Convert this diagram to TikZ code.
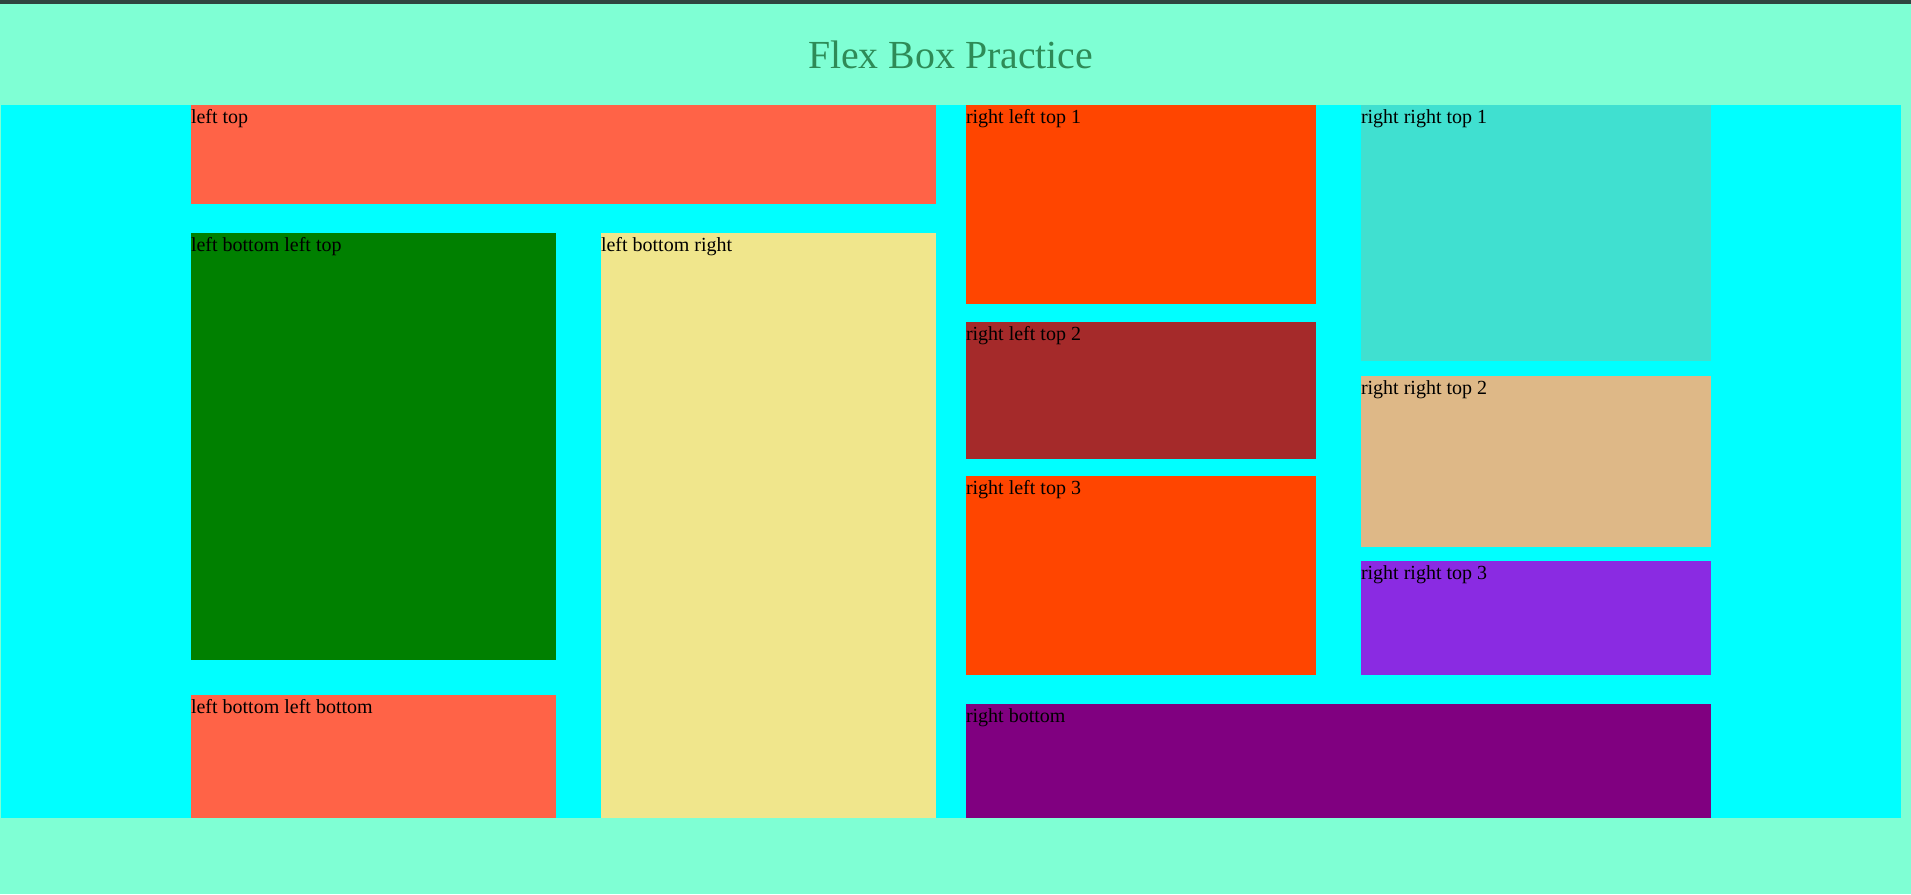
\documentclass[tikz,border=0pt]{standalone}
\usepackage{fontspec}
\setmainfont{Liberation Serif}
\definecolor{aqua}{HTML}{7FFFD4}
\definecolor{cyanbg}{HTML}{00FFFF}
\definecolor{barcol}{HTML}{2F4540}
\definecolor{tomato}{HTML}{FF6347}
\definecolor{orangered}{HTML}{FF4500}
\definecolor{brownc}{HTML}{A52A2A}
\definecolor{turq}{HTML}{40E0D0}
\definecolor{burly}{HTML}{DEB887}
\definecolor{bviolet}{HTML}{8A2BE2}
\definecolor{purplec}{HTML}{800080}
\definecolor{greenc}{HTML}{008000}
\definecolor{khaki}{HTML}{F0E68C}
\definecolor{seagreen}{HTML}{2E8B57}
\tikzset{
  lbl/.style={anchor=base west, inner sep=0pt, outer sep=0pt, text=black, font=\fontsize{20}{24}\selectfont},
  ttl/.style={anchor=base west, inner sep=0pt, outer sep=0pt, text=seagreen, font=\fontsize{39.8}{46}\selectfont}
}
\begin{document}
\begin{tikzpicture}[x=1pt,y=-1pt]
\useasboundingbox (0,0) rectangle (1911,894);
\fill[aqua] (0,0) rectangle (1911,894);
\fill[barcol] (0,0) rectangle (1911,4);
\node[ttl] (title) at (808,68.5) {Flex Box Practice};
\fill[cyanbg] (1.2,105) rectangle (1901,818);
% left column
\fill[tomato] (191,105) rectangle (936,204);
\node[lbl] (lt) at (191,123.5) {left top};
\fill[greenc] (191,233) rectangle (556,660);
\node[lbl] (lblt) at (191,251.5) {left bottom left top};
\fill[tomato] (191,695) rectangle (556,818);
\node[lbl] (lblb) at (191,713.5) {left bottom left bottom};
\fill[khaki] (601,233) rectangle (936,818);
\node[lbl] (lbr) at (601,251.5) {left bottom right};
% right column
\fill[orangered] (966,105) rectangle (1316,304);
\node[lbl] (rlt1) at (966,123.5) {right left top 1};
\fill[brownc] (966,322) rectangle (1316,459);
\node[lbl] (rlt2) at (966,340.5) {right left top 2};
\fill[orangered] (966,476) rectangle (1316,675);
\node[lbl] (rlt3) at (966,494.5) {right left top 3};
\fill[turq] (1361,105) rectangle (1711,361);
\node[lbl] (rrt1) at (1361,123.5) {right right top 1};
\fill[burly] (1361,376) rectangle (1711,547);
\node[lbl] (rrt2) at (1361,394.5) {right right top 2};
\fill[bviolet] (1361,561) rectangle (1711,675);
\node[lbl] (rrt3) at (1361,579.5) {right right top 3};
\fill[purplec] (966,704) rectangle (1711,818);
\node[lbl] (rb) at (966,722.5) {right bottom};
\end{tikzpicture}
\end{document}
